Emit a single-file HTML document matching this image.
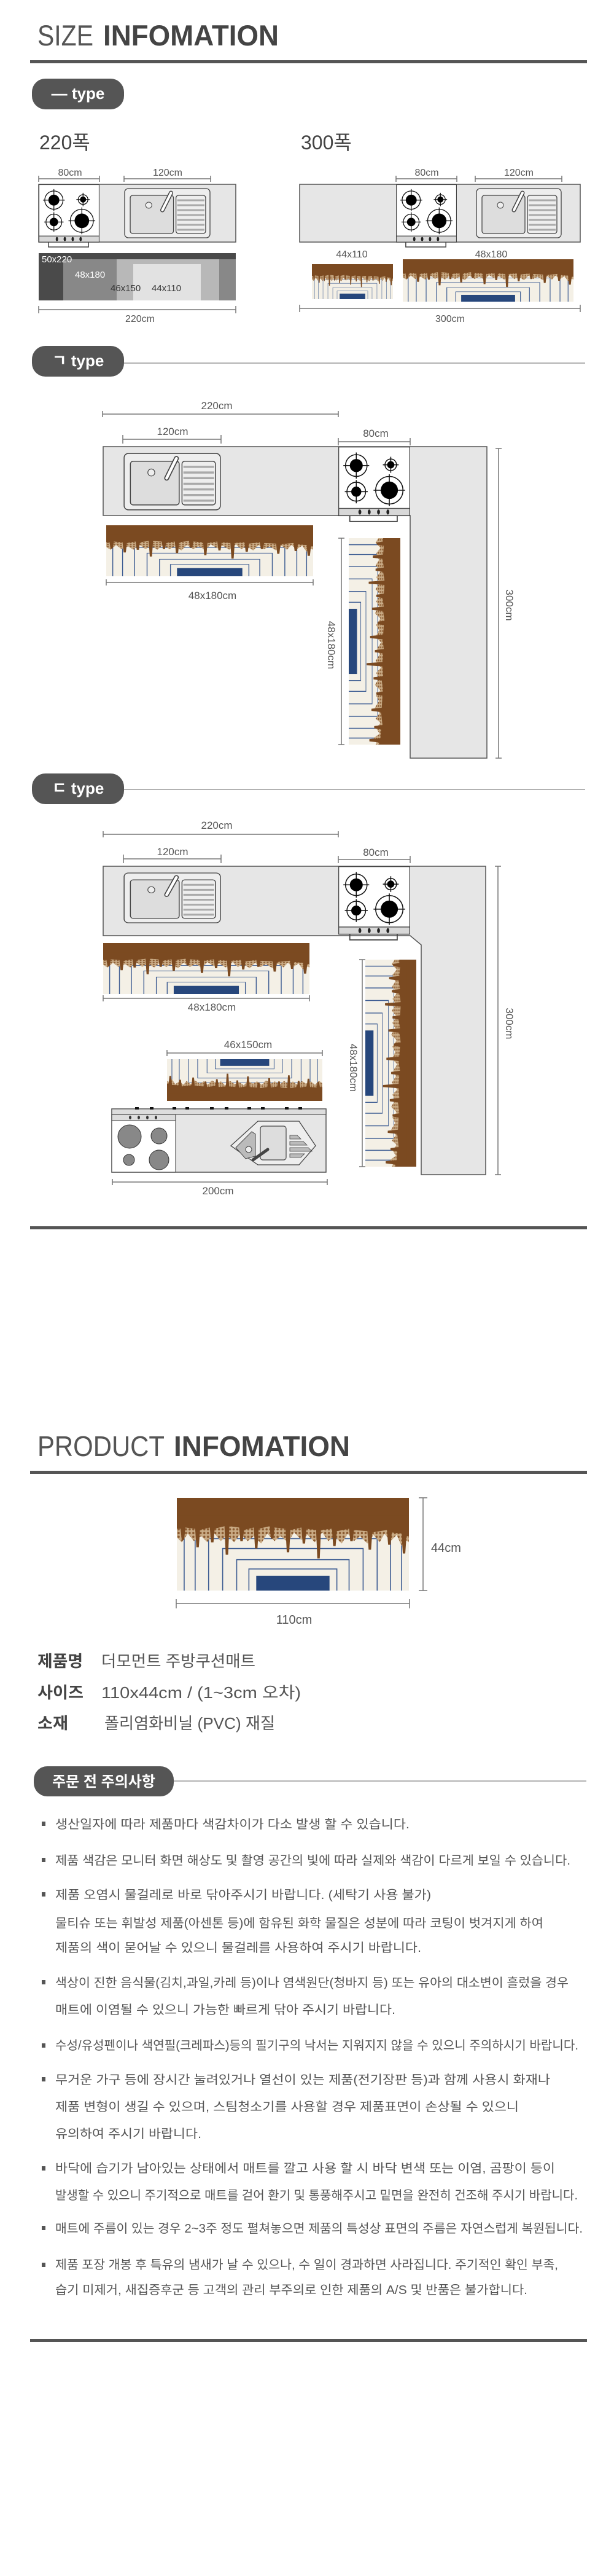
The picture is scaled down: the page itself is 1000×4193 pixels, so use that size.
<!DOCTYPE html>
<html><head><meta charset="utf-8"><style>
html,body{margin:0;padding:0;background:#fff;}
svg{display:block;}
text{font-family:"Liberation Sans","Noto Sans CJK KR",sans-serif;}
</style></head><body>
<svg width="1000" height="4193" viewBox="0 0 1000 4193" xmlns="http://www.w3.org/2000/svg">
<defs>
<pattern id="dots" width="6" height="6" patternUnits="userSpaceOnUse">
<rect width="6" height="6" fill="#c9ab85"/><circle cx="3" cy="3" r="1.8" fill="#8a5a30"/>
</pattern>
<symbol id="mat" viewBox="0 0 380 150" preserveAspectRatio="none">
<rect width="380" height="150" fill="#f4f0e6"/>
<g fill="none" stroke="#3d5c92" stroke-width="1.6">
<path d="M12,150V40H368V150"/><path d="M30,150V52H350V150"/><path d="M52,150V66H328V150"/>
<path d="M75,150V82H305V150"/><path d="M98,150V100H282V150"/><path d="M118,150V115H262V150"/>
</g>
<rect x="130" y="126" width="120" height="24" fill="#27477c"/>
<path fill="url(#dots)" d="M0,25H380V72L372,66L368,78L360,60L350,70L340,58L332,72L322,60L312,74L300,62L290,70L280,58L270,74L258,62L248,70L238,56L226,72L214,60L204,68L192,56L182,72L170,62L160,70L148,58L138,74L126,62L116,70L104,58L94,72L82,60L72,70L60,56L50,72L40,62L28,70L18,58L8,72L0,64Z"/>
<path fill="#7b4a21" d="M0,0H380V62L376,62L374,90L370,90L368,58L352,56L350,76L346,76L344,52L320,56L318,84L314,84L312,54L290,52L288,70L284,70L282,50L262,54L260,78L256,78L254,50L236,52L234,98L230,98L228,52L212,50L210,74L206,74L204,48L186,52L184,88L180,88L178,50L160,48L158,66L154,66L152,46L134,50L132,82L128,82L126,48L110,52L108,70L104,70L102,48L86,46L84,92L80,92L78,46L62,50L60,72L56,72L54,48L38,52L36,80L32,80L30,50L14,48L12,68L8,68L6,50L0,50Z"/>
<rect width="380" height="28" fill="#7b4a21"/>
</symbol>
<symbol id="stove" viewBox="0 0 100 104" preserveAspectRatio="none">
<rect x="0.5" y="0.5" width="99" height="85" fill="#fff" stroke="#444" stroke-width="1.2"/>
<rect x="0.5" y="85" width="99" height="10" fill="#d8d8d8" stroke="#444" stroke-width="1.2"/>
<g fill="#222"><ellipse cx="30" cy="90" rx="2" ry="3.5"/><ellipse cx="43" cy="90" rx="2" ry="3.5"/><ellipse cx="56" cy="90" rx="2" ry="3.5"/><ellipse cx="69" cy="90" rx="2" ry="3.5"/></g>
<path d="M16,95V103H82V95" fill="none" stroke="#444" stroke-width="1.5"/>
<g stroke="#111" stroke-width="1.3" fill="none">
<circle cx="25" cy="26" r="15"/><path d="M7,26H43M25,8V44"/>
<circle cx="73" cy="25" r="8"/><path d="M62,25H84M73,14V36"/>
<circle cx="25" cy="62" r="13"/><path d="M9,62H41M25,46V78"/>
<circle cx="71" cy="60" r="19"/><path d="M49,60H93M71,38V82"/>
</g>
<g fill="#000"><circle cx="25" cy="26" r="9"/><circle cx="73" cy="25" r="5"/><circle cx="25" cy="62" r="7"/><circle cx="71" cy="60" r="12"/></g>
</symbol>
<symbol id="sink" viewBox="0 0 140 82" preserveAspectRatio="none">
<rect x="1" y="1" width="138" height="80" rx="6" fill="#eee" stroke="#444" stroke-width="1.3"/>
<rect x="10" y="12" width="70" height="62" rx="4" fill="#ddd" stroke="#444" stroke-width="1.3"/>
<rect x="84" y="12" width="48" height="62" rx="4" fill="#eee" stroke="#444" stroke-width="1.3"/>
<g stroke="#aaa" stroke-width="3"><path d="M86,20H130M86,28H130M86,36H130M86,44H130M86,52H130M86,60H130M86,68H130"/></g>
<circle cx="40" cy="28" r="5" fill="#eee" stroke="#444"/>
<path d="M62,36L76,8" stroke="#444" stroke-width="7" stroke-linecap="round"/>
<path d="M62,36L76,8" stroke="#fff" stroke-width="4" stroke-linecap="round"/>
</symbol>
</defs>

<!-- SIZE INFOMATION -->
<text x="61" y="74" font-size="47" fill="#555" textLength="91" lengthAdjust="spacingAndGlyphs">SIZE</text>
<text x="168" y="74" font-size="47" font-weight="bold" fill="#444" textLength="286" lengthAdjust="spacingAndGlyphs">INFOMATION</text>
<rect x="49" y="98" width="907" height="5" fill="#555"/>

<rect x="52" y="128" width="150" height="50" rx="22" fill="#555"/>
<text x="127" y="161" font-size="26" font-weight="bold" fill="#fff" text-anchor="middle">— type</text>

<text x="64" y="243" font-size="32" fill="#444">220폭</text>
<text x="490" y="243" font-size="32" fill="#444">300폭</text>

<g stroke="#777" stroke-width="1.5" fill="none">
<path d="M63,291H162M63,286V296M162,286V296"/>
<path d="M202,291H343M202,286V296M343,286V296"/>
<path d="M645,291H744M645,286V296M744,286V296"/>
<path d="M774,291H915M774,286V296M915,286V296"/>
<path d="M63,504H384M63,498V510M384,498V510"/>
<path d="M488,502H945M488,496V508M945,496V508"/>
</g>
<g font-size="16" fill="#555" text-anchor="middle">
<text x="114" y="286">80cm</text><text x="273" y="286">120cm</text>
<text x="695" y="286">80cm</text><text x="845" y="286">120cm</text>
<text x="228" y="524">220cm</text><text x="733" y="524">300cm</text>
<text x="573" y="419">44x110</text><text x="800" y="419">48x180</text>
</g>

<rect x="63" y="300" width="321" height="94" fill="#e6e6e6" stroke="#555" stroke-width="1.5"/>
<use href="#stove" x="63" y="300" width="99" height="103"/>
<use href="#sink" x="202" y="306" width="141" height="82"/>

<rect x="63" y="412" width="321" height="77" fill="#888"/>
<rect x="63" y="412" width="40" height="77" fill="#4a4a4a"/>
<rect x="63" y="412" width="321" height="10" fill="#4a4a4a"/>
<rect x="190" y="422" width="167" height="67" fill="#b8b8b8"/>
<rect x="217" y="430" width="110" height="59" fill="#e2e2e2"/>
<g font-size="15" fill="#fff"><text x="68" y="427">50x220</text><text x="122" y="452">48x180</text></g>
<g font-size="15" fill="#333"><text x="180" y="474">46x150</text><text x="247" y="474">44x110</text></g>

<rect x="488" y="300" width="457" height="94" fill="#e6e6e6" stroke="#555" stroke-width="1.5"/>
<use href="#stove" x="645" y="300" width="99" height="103"/>
<use href="#sink" x="775" y="306" width="140" height="82"/>
<use href="#mat" x="508" y="430" width="132" height="57"/>
<use href="#mat" x="656" y="422" width="278" height="69"/>

<!-- ㄱ type -->
<rect x="52" y="563" width="150" height="50" rx="22" fill="#555"/>
<text x="127" y="596" font-size="26" font-weight="bold" fill="#fff" text-anchor="middle">ㄱ type</text>
<path d="M202,591H953" stroke="#999" stroke-width="1.5"/>

<g stroke="#777" stroke-width="1.5" fill="none">
<path d="M167,674H551M167,669V679M551,669V679"/>
<path d="M200,715H360M200,708V722M360,708V722"/>
<path d="M551,719H668M551,713V725M668,713V725"/>
<path d="M173,948H510M173,943V953M510,943V953"/>
<path d="M556,876V1212M551,876H561M551,1212H561"/>
<path d="M812,730V1234M807,730H817M807,1234H817"/>
</g>
<g font-size="17" fill="#555" text-anchor="middle">
<text x="353" y="666">220cm</text><text x="281" y="708">120cm</text><text x="612" y="711">80cm</text>
<text x="346" y="975">48x180cm</text>
</g>
<path d="M168,727H793V1234H668V839H168Z" fill="#e6e6e6" stroke="#555" stroke-width="1.5"/>
<use href="#sink" x="201" y="737" width="159" height="94"/>
<use href="#stove" x="551" y="727" width="117" height="123"/>
<use href="#mat" x="173" y="855" width="337" height="83"/>
<g transform="translate(652,876) rotate(90)"><use href="#mat" width="336" height="84"/></g>
<text transform="translate(534,1050) rotate(90)" font-size="17" fill="#555" text-anchor="middle">48x180cm</text>
<text transform="translate(824,985) rotate(90)" font-size="17" fill="#555" text-anchor="middle">300cm</text>

<!-- ㄷ type -->
<rect x="52" y="1259" width="150" height="50" rx="22" fill="#555"/>
<text x="127" y="1292" font-size="26" font-weight="bold" fill="#fff" text-anchor="middle">ㄷ type</text>
<path d="M202,1285H953" stroke="#999" stroke-width="1.5"/>

<g stroke="#777" stroke-width="1.5" fill="none">
<path d="M168,1358H551M168,1353V1363M551,1353V1363"/>
<path d="M201,1398H360M201,1391V1405M360,1391V1405"/>
<path d="M551,1399H668M551,1393V1405M668,1393V1405"/>
<path d="M168,1625H504M168,1620V1630M504,1620V1630"/>
<path d="M272,1714H525M272,1709V1719M525,1709V1719"/>
<path d="M590,1562V1899M585,1562H595M585,1899H595"/>
<path d="M811,1410V1912M806,1410H816M806,1912H816"/>
<path d="M183,1924H533M183,1919V1929M533,1919V1929"/>
</g>
<g font-size="17" fill="#555" text-anchor="middle">
<text x="353" y="1349">220cm</text><text x="281" y="1392">120cm</text><text x="612" y="1393">80cm</text>
<text x="345" y="1645">48x180cm</text><text x="404" y="1706">46x150cm</text><text x="355" y="1944">200cm</text>
</g>
<path d="M168,1410H791V1912H686V1538L668,1523H168Z" fill="#e6e6e6" stroke="#555" stroke-width="1.5"/>
<use href="#sink" x="201" y="1420" width="159" height="83"/>
<use href="#stove" x="551" y="1410" width="117" height="121"/>
<use href="#mat" x="168" y="1535" width="336" height="83"/>
<g transform="translate(678,1562) rotate(90)"><use href="#mat" width="337" height="83"/></g>
<g transform="translate(525,1792) rotate(180)"><use href="#mat" width="253" height="68"/></g>
<text transform="translate(570,1738) rotate(90)" font-size="17" fill="#555" text-anchor="middle">48x180cm</text>
<text transform="translate(824,1666) rotate(90)" font-size="17" fill="#555" text-anchor="middle">300cm</text>

<!-- bottom counter -->
<rect x="182" y="1805" width="349" height="103" fill="#e6e6e6" stroke="#555" stroke-width="1.5"/>
<rect x="182" y="1805" width="349" height="9" fill="#ddd" stroke="#555" stroke-width="1.2"/>
<g fill="#111"><rect x="220" y="1802" width="6" height="4"/><rect x="244" y="1802" width="6" height="4"/><rect x="281" y="1802" width="6" height="4"/><rect x="302" y="1802" width="6" height="4"/><rect x="342" y="1802" width="6" height="4"/><rect x="366" y="1802" width="6" height="4"/><rect x="403" y="1802" width="6" height="4"/><rect x="425" y="1802" width="6" height="4"/><rect x="464" y="1802" width="6" height="4"/><rect x="486" y="1802" width="6" height="4"/></g>
<rect x="182" y="1814" width="104" height="94" fill="#fff" stroke="#555" stroke-width="1.2"/>
<rect x="182" y="1814" width="104" height="10" fill="#ddd" stroke="#555" stroke-width="1.2"/>
<g fill="#333"><ellipse cx="212" cy="1819" rx="2" ry="3"/><ellipse cx="226" cy="1819" rx="2" ry="3"/><ellipse cx="240" cy="1819" rx="2" ry="3"/><ellipse cx="254" cy="1819" rx="2" ry="3"/></g>
<g fill="#888" stroke="#333" stroke-width="1"><circle cx="211" cy="1850" r="19"/><circle cx="259" cy="1849" r="13"/><circle cx="210" cy="1888" r="9"/><circle cx="259" cy="1888" r="16"/></g>
<path d="M376,1865L420,1825H487L514,1865L487,1896H420Z" fill="#eee" stroke="#444" stroke-width="1.3"/>
<rect x="424" y="1833" width="42" height="55" rx="4" fill="#ddd" stroke="#444" stroke-width="1.2"/>
<path d="M384,1868L410,1842L416,1846V1882L400,1886Z" fill="#bbb" stroke="#444"/>
<circle cx="405" cy="1871" r="5" fill="#eee" stroke="#444"/>
<path d="M412,1888L436,1871" stroke="#444" stroke-width="5" stroke-linecap="round"/>
<g fill="#bbb" stroke="#444" stroke-width="0.8"><path d="M472,1848H484L490,1854H472Z"/><path d="M472,1858H494L500,1864H472Z"/><path d="M472,1868H502L508,1874H472Z"/><path d="M472,1878H496L490,1884H472Z"/></g>

<rect x="49" y="1996" width="907" height="5" fill="#555"/>

<!-- PRODUCT INFOMATION -->
<text x="61" y="2370" font-size="46" fill="#555" textLength="207" lengthAdjust="spacingAndGlyphs">PRODUCT</text>
<text x="283" y="2370" font-size="46" font-weight="bold" fill="#444" textLength="287" lengthAdjust="spacingAndGlyphs">INFOMATION</text>
<rect x="49" y="2394" width="907" height="5" fill="#555"/>

<use href="#mat" x="288" y="2438" width="378" height="151"/>
<g stroke="#777" stroke-width="1.5" fill="none">
<path d="M689,2438V2589M682,2438H696M682,2589H696"/>
<path d="M287,2610H667M287,2603V2618M667,2603V2618"/>
</g>
<text x="702" y="2526" font-size="20" fill="#555">44cm</text>
<text x="479" y="2643" font-size="20" fill="#555" text-anchor="middle">110cm</text>

<g font-size="26" fill="#444">
<text x="61" y="2713" font-weight="bold" textLength="74" lengthAdjust="spacingAndGlyphs">제품명</text>
<text x="61" y="2764" font-weight="bold" textLength="75" lengthAdjust="spacingAndGlyphs">사이즈</text>
<text x="61" y="2814" font-weight="bold" textLength="50" lengthAdjust="spacingAndGlyphs">소재</text>
<text x="165" y="2713" fill="#555" textLength="251" lengthAdjust="spacingAndGlyphs">더모먼트 주방쿠션매트</text>
<text x="165" y="2764" fill="#555" textLength="325" lengthAdjust="spacingAndGlyphs">110x44cm  /  (1~3cm 오차)</text>
<text x="170" y="2814" fill="#555" textLength="278" lengthAdjust="spacingAndGlyphs">폴리염화비닐 (PVC) 재질</text>
</g>

<rect x="55" y="2875" width="228" height="49" rx="22" fill="#555"/>
<text x="169" y="2908" font-size="24" font-weight="bold" fill="#fff" text-anchor="middle">주문 전 주의사항</text>
<path d="M283,2899H955" stroke="#999" stroke-width="1.5"/>

<g fill="#555">
<rect x="68" y="2965" width="6" height="7"/><rect x="68" y="3024" width="6" height="7"/><rect x="68" y="3080" width="6" height="7"/>
<rect x="68" y="3223" width="6" height="7"/><rect x="68" y="3326" width="6" height="7"/><rect x="68" y="3381" width="6" height="7"/>
<rect x="68" y="3526" width="6" height="7"/><rect x="68" y="3623" width="6" height="7"/><rect x="68" y="3683" width="6" height="7"/>
</g>
<g font-size="20" fill="#555">
<text x="90" y="2976" textLength="577" lengthAdjust="spacingAndGlyphs">생산일자에 따라 제품마다 색감차이가 다소 발생 할 수 있습니다.</text>
<text x="90" y="3035" textLength="839" lengthAdjust="spacingAndGlyphs">제품 색감은 모니터 화면 해상도 및 촬영 공간의 빛에 따라 실제와 색감이 다르게 보일 수 있습니다.</text>
<text x="90" y="3091" textLength="612" lengthAdjust="spacingAndGlyphs">제품 오염시 물걸레로 바로 닦아주시기 바랍니다. (세탁기 사용 불가)</text>
<text x="90" y="3137" textLength="795" lengthAdjust="spacingAndGlyphs">물티슈 또는 휘발성 제품(아센톤 등)에 함유된 화학 물질은 성분에 따라 코팅이 벗겨지게 하여</text>
<text x="90" y="3177" textLength="596" lengthAdjust="spacingAndGlyphs">제품의 색이 묻어날 수 있으니 물걸레를 사용하여 주시기 바랍니다.</text>
<text x="90" y="3234" textLength="836" lengthAdjust="spacingAndGlyphs">색상이 진한 음식물(김치,과일,카레 등)이나 염색원단(청바지 등) 또는 유아의 대소변이 흘렀을 경우</text>
<text x="90" y="3278" textLength="554" lengthAdjust="spacingAndGlyphs">매트에 이염될 수 있으니 가능한 빠르게 닦아 주시기 바랍니다.</text>
<text x="90" y="3336" textLength="852" lengthAdjust="spacingAndGlyphs">수성/유성펜이나 색연필(크레파스)등의 필기구의 낙서는 지워지지 않을 수 있으니 주의하시기 바랍니다.</text>
<text x="90" y="3392" textLength="806" lengthAdjust="spacingAndGlyphs">무거운 가구 등에 장시간 눌려있거나 열선이 있는 제품(전기장판 등)과 함께 사용시 화재나</text>
<text x="90" y="3436" textLength="755" lengthAdjust="spacingAndGlyphs">제품 변형이 생길 수 있으며, 스팀청소기를 사용할 경우 제품표면이 손상될 수 있으니</text>
<text x="90" y="3480" textLength="238" lengthAdjust="spacingAndGlyphs">유의하여 주시기 바랍니다.</text>
<text x="90" y="3536" textLength="814" lengthAdjust="spacingAndGlyphs">바닥에 습기가 남아있는 상태에서 매트를 깔고 사용 할 시 바닥 변색 또는 이염, 곰팡이 등이</text>
<text x="90" y="3580" textLength="851" lengthAdjust="spacingAndGlyphs">발생할 수 있으니 주기적으로 매트를 걷어 환기 및 통풍해주시고 밑면을 완전히 건조해 주시기 바랍니다.</text>
<text x="90" y="3634" textLength="859" lengthAdjust="spacingAndGlyphs">매트에 주름이 있는 경우 2~3주 정도 펼쳐놓으면 제품의 특성상 표면의 주름은 자연스럽게 복원됩니다.</text>
<text x="90" y="3693" textLength="819" lengthAdjust="spacingAndGlyphs">제품 포장 개봉 후 특유의 냄새가 날 수 있으나, 수 일이 경과하면 사라집니다. 주기적인 확인 부족,</text>
<text x="90" y="3734" textLength="769" lengthAdjust="spacingAndGlyphs">습기 미제거, 새집증후군 등 고객의 관리 부주의로 인한 제품의 A/S 및 반품은 불가합니다.</text>
</g>
<rect x="49" y="3807" width="907" height="5" fill="#555"/>
</svg>
</body></html>
